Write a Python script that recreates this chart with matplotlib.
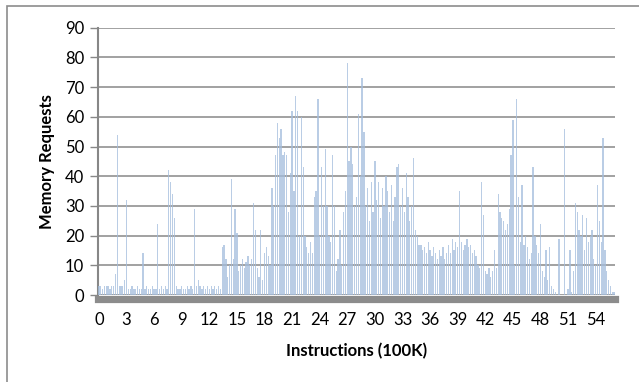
"""Memory requests per 100K-instruction window (dense bar trace)."""

import matplotlib

matplotlib.use("Agg")
import matplotlib.pyplot as plt
import numpy as np
from matplotlib.patches import Rectangle

plt.rcParams["font.family"] = ["Lato", "DejaVu Sans"]

STEP = 0.2  # instructions (100K) per bar

# memory requests, one line per unit of 100K instructions (5 bars each)
REQUESTS = [
    3, 3, 2, 3, 3,
    3, 2, 3, 3, 7,
    54, 3, 3, 3, 5,
    32, 2, 2, 3, 2,
    2, 3, 2, 2, 14,
    2, 3, 2, 2, 3,
    2, 2, 24, 2, 3,
    2, 3, 2, 42, 38,
    34, 26, 3, 2, 2,
    3, 2, 2, 3, 2,
    3, 2, 29, 3, 5,
    3, 2, 3, 2, 3,
    2, 3, 2, 3, 2,
    3, 2, 16, 17, 12,
    6, 10, 39, 12, 29,
    21, 8, 10, 12, 9,
    11, 13, 10, 12, 31,
    22, 9, 6, 22, 5,
    14, 16, 13, 10, 36,
    30, 47, 58, 53, 56,
    47, 48, 47, 28, 41,
    62, 35, 67, 62, 20,
    60, 43, 20, 16, 14,
    18, 14, 33, 35, 66,
    20, 43, 30, 49, 30,
    20, 18, 47, 30, 8,
    12, 22, 10, 28, 35,
    78, 45, 50, 44, 30,
    33, 61, 40, 73, 55,
    30, 36, 25, 38, 28,
    45, 32, 38, 26, 36,
    30, 40, 35, 28, 37,
    25, 33, 43, 44, 30,
    36, 28, 41, 33, 25,
    30, 46, 22, 20, 17,
    17, 15, 16, 14, 18,
    15, 13, 16, 14, 12,
    15, 13, 16, 12, 14,
    17, 14, 19, 15, 18,
    16, 35, 18, 15, 17,
    19, 16, 17, 14, 15,
    13, 10, 9, 38, 27,
    8, 7, 9, 6, 8,
    15, 9, 34, 28, 26,
    25, 22, 24, 29, 47,
    59, 10, 66, 33, 18,
    37, 17, 20, 16, 12,
    14, 43, 20, 17, 14,
    24, 8, 6, 15, 5,
    16, 3, 2, 1, 0,
    19, 0, 0, 56, 0,
    2, 15, 1, 8, 31,
    28, 22, 20, 27, 15,
    26, 18, 20, 22, 12,
    10, 37, 25, 18, 53,
    15, 8, 5, 3, 1,
    1,
]

X_TICKS = list(range(0, 55, 3))
Y_TICKS = list(range(0, 91, 10))

GRID = "#878787"

fig = plt.figure(figsize=(6.39, 3.82), dpi=100)
fig.patches.append(
    Rectangle((7 / 639, -0.1), 1.2, 1.1 - 6 / 382, transform=fig.transFigure,
              fill=False, edgecolor="#8c8c8c", linewidth=1.2)
)

ax = fig.add_axes([98 / 639, 1 - 295 / 382, 517 / 639, 267.3 / 382])
x = np.arange(len(REQUESTS)) * STEP
ax.bar(x, REQUESTS, width=STEP * 0.7, color="#a3bddd", alpha=0.75,
       linewidth=0, zorder=3)

ax.set_xlim(-0.1, 56.1)
ax.set_ylim(0, 90)
ax.set_yticks(Y_TICKS)
ax.set_xticks(X_TICKS)
ax.tick_params(axis="y", length=6, width=1, color=GRID, labelsize=12, pad=4)
ax.tick_params(axis="x", length=0, labelsize=12, pad=12)
ax.yaxis.grid(True, color=GRID, linewidth=1.1, zorder=1)

for side in ("top", "right"):
    ax.spines[side].set_visible(False)
ax.spines["left"].set_color(GRID)
ax.spines["left"].set_linewidth(1.5)
ax.spines["bottom"].set_visible(False)
# heavy category axis, as in the original
ax.axhline(-1.3, color="#8c8c8c", linewidth=5.2, zorder=4, clip_on=False)

ax.set_ylabel("Memory Requests", fontsize=12, fontweight="bold", labelpad=7)
ax.set_xlabel("Instructions (100K)", fontsize=12, fontweight="bold", labelpad=11)

fig.savefig("out.png", dpi=100)
